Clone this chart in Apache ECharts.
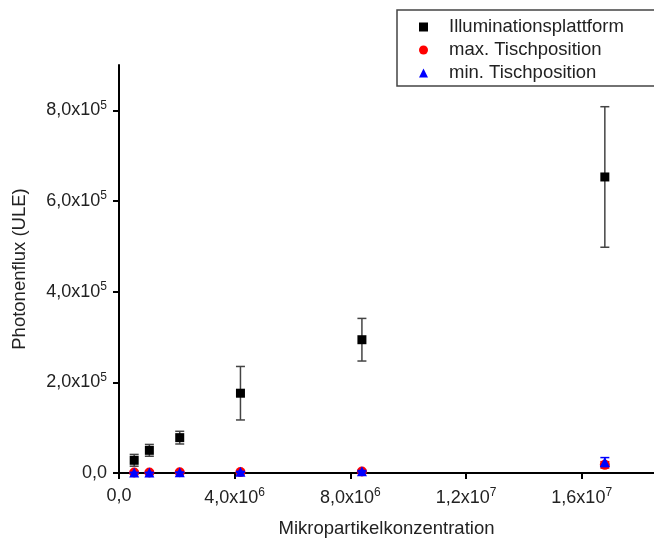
<!DOCTYPE html>
<html>
<head>
<meta charset="utf-8">
<script src="https://cdn.jsdelivr.net/npm/echarts@6/dist/echarts.min.js"></script>
<style>
  html, body { margin: 0; padding: 0; background: #fff; }
  #chart { width: 654px; height: 541px; }
</style>
</head>
<body>
<div id="chart"></div>
<script>
// Mikropartikelkonzentration (x)
var conc = [5.25e5, 1.05e6, 2.1e6, 4.2e6, 8.4e6, 1.68e7];

// Illuminationsplattform
var illum = [2.8e4, 5.0e4, 7.8e4, 1.76e5, 2.94e5, 6.53e5];
var illumErr = [1.3e4, 1.3e4, 1.4e4, 5.9e4, 4.7e4, 1.55e5];

// max. Tischposition
var maxPos = [1.0e3, 1.0e3, 1.5e3, 2.0e3, 3.5e3, 1.8e4];
var maxErr = [5e2, 5e2, 5e2, 1.0e3, 1.5e3, 7.0e3];

// min. Tischposition
var minPos = [1.0e3, 1.0e3, 1.5e3, 2.5e3, 4.0e3, 2.4e4];
var minErr = [5e2, 5e2, 5e2, 1.0e3, 1.5e3, 1.0e4];

var xTicks = [0, 4e6, 8e6, 1.2e7, 1.6e7];
var yTicks = [0, 2e5, 4e5, 6e5, 8e5];

var FONT = 'Liberation Sans';

function pairs(xs, ys) {
    return xs.map(function (x, i) { return [x, ys[i]]; });
}

function errData(xs, ys, es) {
    return xs.map(function (x, i) { return [x, ys[i] - es[i], ys[i] + es[i]]; });
}

// "8,0x10^5" style label
function sciLabel(v) {
    if (v === 0) return '{b|0,0}';
    var exp = Math.floor(Math.log10(v) + 1e-9);
    var mant = (v / Math.pow(10, exp)).toFixed(1).replace('.', ',');
    return '{b|' + mant + 'x10}{s|' + exp + '}';
}

var richLabel = {
    b: { fontFamily: FONT, fontSize: 18, color: '#222' },
    s: { fontFamily: FONT, fontSize: 12, color: '#222', padding: [0, 0, 10, 0] }
};

function errorBars(color) {
    return function (params, api) {
        var x = api.value(0);
        var lo = api.coord([x, api.value(1)]);
        var hi = api.coord([x, api.value(2)]);
        var w = 4.5;
        var st = { stroke: color, lineWidth: 1.5 };
        return {
            type: 'group',
            children: [
                { type: 'line', shape: { x1: lo[0], y1: lo[1], x2: hi[0], y2: hi[1] }, style: st },
                { type: 'line', shape: { x1: lo[0] - w, y1: lo[1], x2: lo[0] + w, y2: lo[1] }, style: st },
                { type: 'line', shape: { x1: hi[0] - w, y1: hi[1], x2: hi[0] + w, y2: hi[1] }, style: st }
            ]
        };
    };
}

var option = {
    animation: false,
    backgroundColor: '#fff',
    grid: {
        left: 119,
        right: 0,
        top: 65,
        bottom: 68,
        outerBoundsMode: 'none'
    },
    legend: {
        orient: 'vertical',
        left: 397,
        top: 10,
        padding: [7, 60, 3, 22],
        itemGap: 3,
        itemWidth: 9,
        itemHeight: 9,
        borderColor: '#444',
        borderWidth: 1.5,
        textStyle: { fontFamily: FONT, fontSize: 18.5, lineHeight: 20, color: '#222', padding: [0, 0, 0, 16] },
        data: ['Illuminationsplattform', 'max. Tischposition', 'min. Tischposition']
    },
    xAxis: {
        type: 'value',
        min: 0,
        max: 1.85e7,
        name: 'Mikropartikelkonzentration',
        nameLocation: 'middle',
        nameGap: 46,
        nameTextStyle: { fontFamily: FONT, fontSize: 18.5, color: '#222' },
        splitLine: { show: false },
        axisLine: { onZero: false, lineStyle: { color: '#000', width: 2 } },
        axisTick: { show: true, length: 6, customValues: xTicks, lineStyle: { color: '#000', width: 2 } },
        axisLabel: {
            customValues: xTicks,
            margin: 14,
            formatter: sciLabel,
            rich: richLabel
        }
    },
    yAxis: {
        type: 'value',
        min: 0,
        max: 9e5,
        name: 'Photonenflux (ULE)',
        nameLocation: 'middle',
        nameGap: 90,
        nameTextStyle: { fontFamily: FONT, fontSize: 18.5, color: '#222' },
        splitLine: { show: false },
        axisLine: { show: true, onZero: false, lineStyle: { color: '#000', width: 2 } },
        axisTick: { show: true, length: 6, customValues: yTicks, lineStyle: { color: '#000', width: 2 } },
        axisLabel: {
            customValues: yTicks,
            margin: 12,
            formatter: sciLabel,
            rich: richLabel
        }
    },
    series: [
        {
            name: 'Illuminationsplattform',
            type: 'scatter',
            symbol: 'rect',
            symbolSize: 9,
            itemStyle: { color: '#000', opacity: 1 },
            data: pairs(conc, illum),
            z: 3
        },
        {
            type: 'custom',
            renderItem: errorBars('#444'),
            data: errData(conc, illum, illumErr),
            encode: { x: 0, y: [1, 2] },
            z: 2,
            silent: true
        },
        {
            name: 'max. Tischposition',
            type: 'scatter',
            symbol: 'circle',
            symbolSize: 10,
            itemStyle: { color: '#ff0000', opacity: 1 },
            data: pairs(conc, maxPos),
            z: 4
        },
        {
            type: 'custom',
            renderItem: errorBars('#ff0000'),
            data: errData(conc, maxPos, maxErr),
            encode: { x: 0, y: [1, 2] },
            z: 4,
            silent: true
        },
        {
            name: 'min. Tischposition',
            type: 'scatter',
            symbol: 'triangle',
            symbolSize: 10,
            itemStyle: { color: '#0000ff', opacity: 1 },
            data: pairs(conc, minPos),
            z: 5
        },
        {
            type: 'custom',
            renderItem: errorBars('#0000ff'),
            data: errData(conc, minPos, minErr),
            encode: { x: 0, y: [1, 2] },
            z: 5,
            silent: true
        }
    ]
};

var chart = echarts.init(document.getElementById('chart'));
chart.setOption(option);
</script>
</body>
</html>
